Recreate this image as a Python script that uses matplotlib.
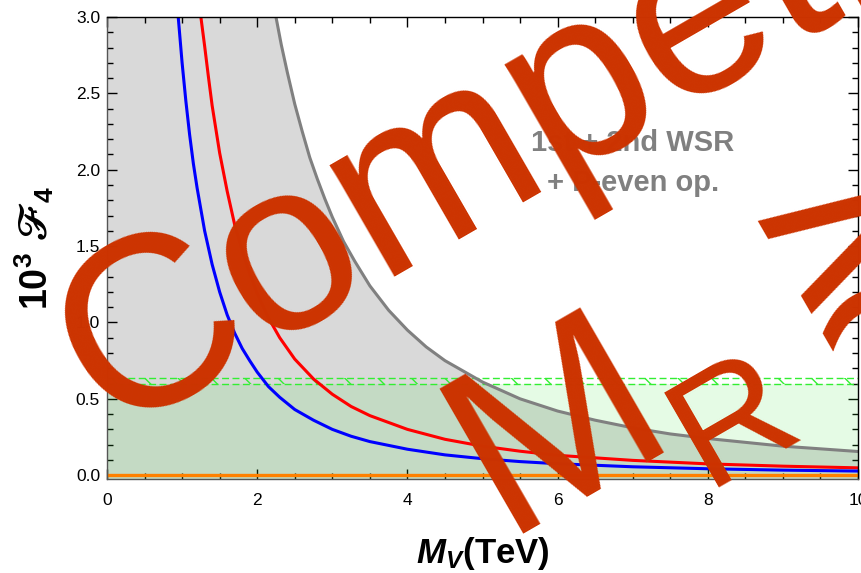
import numpy as np
import matplotlib
matplotlib.use("Agg")
import matplotlib.pyplot as plt
from matplotlib.ticker import MultipleLocator

plt.rcParams['font.family'] = ['Liberation Sans', 'DejaVu Sans']
plt.rcParams['mathtext.fontset'] = 'custom'
plt.rcParams['mathtext.rm'] = 'Liberation Sans'
plt.rcParams['mathtext.it'] = 'Liberation Sans:italic'
plt.rcParams['mathtext.bf'] = 'Liberation Sans:bold'
plt.rcParams['mathtext.bfit'] = 'Liberation Sans:bold:italic'
plt.rcParams['mathtext.fallback'] = 'stix'
plt.rcParams['hatch.linewidth'] = 1.0

# 1st + 2nd WSR + P-even operators bound (gray)
mv_gray = [2.25, 2.32, 2.4, 2.5, 2.6, 2.7, 2.8, 2.9, 3.0, 3.15, 3.3, 3.5, 3.75, 4.0, 4.25, 4.5,
           5.0, 5.5, 6.0, 6.5, 7.0, 7.5, 8.0, 9.0, 10.0]
f4_gray = [3.00, 2.82, 2.64, 2.43, 2.25, 2.08, 1.94, 1.81, 1.69, 1.53, 1.40, 1.24, 1.08, 0.95,
           0.84, 0.75, 0.61, 0.50, 0.42, 0.36, 0.31, 0.27, 0.24, 0.19, 0.155]

# red curve
mv_red = [1.25, 1.3, 1.35, 1.4, 1.5, 1.6, 1.7, 1.8, 1.9, 2.0, 2.15, 2.3, 2.5, 2.75, 3.0, 3.25, 3.5,
          4.0, 4.5, 5.0, 5.5, 6.0, 7.0, 8.0, 9.0, 10.0]
f4_red = [3.00, 2.81, 2.61, 2.42, 2.11, 1.86, 1.64, 1.47, 1.32, 1.19, 1.03, 0.90, 0.76, 0.63, 0.53,
          0.45, 0.39, 0.30, 0.235, 0.19, 0.157, 0.13, 0.097, 0.074, 0.059, 0.048]

# blue curve
mv_blue = [0.95, 1.0, 1.05, 1.1, 1.15, 1.2, 1.3, 1.4, 1.5, 1.6, 1.7, 1.8, 1.9, 2.0, 2.15, 2.3, 2.5,
           2.75, 3.0, 3.25, 3.5, 4.0, 4.5, 5.0, 5.5, 6.0, 7.0, 8.0, 9.0, 10.0]
f4_blue = [2.99, 2.70, 2.45, 2.23, 2.04, 1.88, 1.60, 1.38, 1.20, 1.05, 0.93, 0.83, 0.75, 0.675,
           0.58, 0.51, 0.43, 0.36, 0.30, 0.255, 0.22, 0.17, 0.133, 0.108, 0.089, 0.075, 0.055,
           0.042, 0.033, 0.027]

# experimental band on F4 (green) and its uncertainty edge
f4_exp = 0.60
f4_exp_edge = 0.635
f4_orange = 0.0

xmin, xmax = 0.0, 10.0
ymin, ymax = -0.025, 3.0

W, H = 862, 573
fig = plt.figure(figsize=(W / 100, H / 100), dpi=100)
ax = fig.add_axes([107/W, 1 - 479/H, 751/W, 462/H])

# gray excluded region under the sum-rule curve
gx = np.r_[xmin, mv_gray]
gy = np.r_[ymax, f4_gray]
ax.fill_between(gx, gy, ymin, color='#d9d9d9', lw=0, zorder=1)
ax.plot(mv_gray, f4_gray, color='#808080', lw=2.2, zorder=4)

# green allowed band
ax.axhspan(ymin, f4_exp, color=(0.22, 0.9, 0.22), alpha=0.13, lw=0, zorder=2)
ax.fill_between([xmin, xmax], f4_exp, f4_exp_edge, facecolor='none',
                edgecolor='#33ee33', hatch='\\', lw=0, zorder=2)
ax.axhline(f4_exp, color='#33ee33', lw=1.0, ls=(0, (5, 2.5)), zorder=2)
ax.axhline(f4_exp_edge, color='#33ee33', lw=1.0, ls=(0, (5, 2.5)), zorder=2)

ax.plot(mv_red, f4_red, color='#ff0000', lw=2.2, zorder=5)
ax.plot(mv_blue, f4_blue, color='#0000ff', lw=2.2, zorder=5)
ax.axhline(f4_orange, color='#ff8000', lw=2.4, zorder=6)

ax.set_xlim(xmin, xmax)
ax.set_ylim(ymin, ymax)
ax.xaxis.set_minor_locator(MultipleLocator(0.5))
ax.yaxis.set_minor_locator(MultipleLocator(0.1))
ax.set_xticks([0, 2, 4, 6, 8, 10])
ax.set_xticklabels(['0', '2', '4', '6', '8', '10'])
ax.set_yticks([0, 0.5, 1.0, 1.5, 2.0, 2.5, 3.0])
ax.set_yticklabels(['0.0', '0.5', '1.0', '1.5', '2.0', '2.5', '3.0'])
ax.tick_params(which='both', direction='in', top=True, right=True, labelsize=12.5, width=1.0)
ax.tick_params(axis='x', which='both', pad=10)
ax.tick_params(axis='y', which='both', pad=5)
ax.tick_params(which='major', length=7)
ax.tick_params(which='minor', length=4.5)
for side in ['left', 'bottom']:
    ax.spines[side].set_color('#555555')
for s in ax.spines.values():
    s.set_linewidth(1.0)
    s.set_zorder(7)

ax.set_xlabel(r'$\mathbfit{M}_{\mathbfit{V}}$(TeV)', fontsize=25, fontweight='bold')
ax.xaxis.set_label_coords(0.5, (479 - 535) / 462)
ax.xaxis.label.set_va('top')
ax.set_ylabel(r'$\mathbf{10^3}\ 𝓕_{\mathbf{4}}$', fontsize=27, fontweight='bold')
ax.yaxis.set_label_coords((56 - 107) / 751, 0.5)

ax.text(7.0, 2.12, '1st + 2nd WSR', color='#808080', fontsize=21, fontweight='bold',
        ha='center', va='baseline', zorder=8)
ax.text(7.0, 1.86, '+ P-even op.', color='#808080', fontsize=21, fontweight='bold',
        ha='center', va='baseline', zorder=8)


# overlay lettering, placed in pixel coordinates and tilted by 30 degrees
def stamp(px, py, s, size):
    fig.text(px / W, 1 - py / H, s, rotation=30, rotation_mode='anchor',
             ha='left', va='baseline', fontsize=size, color='#cc3300', zorder=20)


stamp(110, 434, 'Competition', 175)
stamp(503, 534, 'M', 175)
stamp(706, 487, 'R', 115)
stamp(806, 356, '≳ 5', 175)

fig.savefig('out.png', dpi=100)
